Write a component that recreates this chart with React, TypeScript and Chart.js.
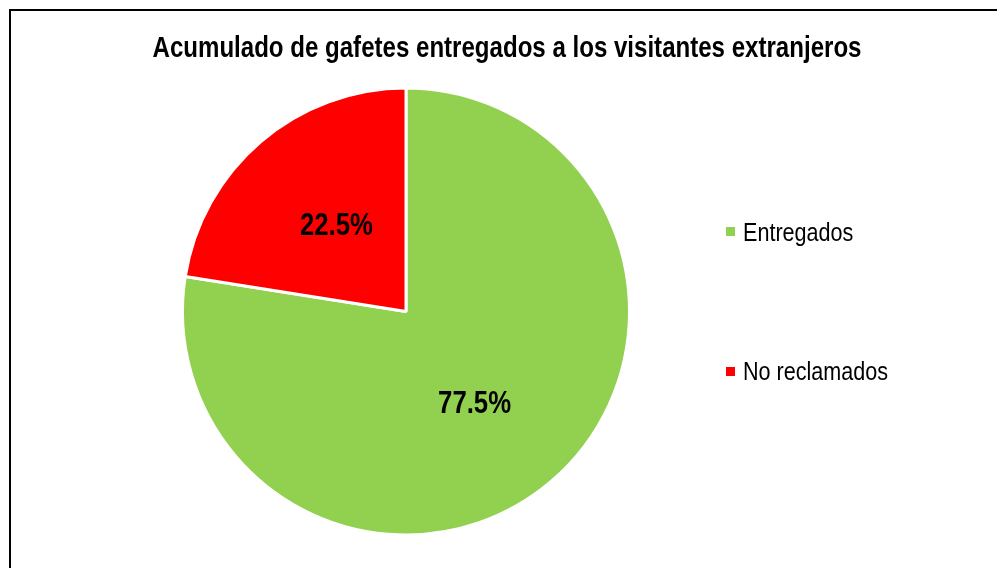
import React, { useEffect, useRef } from "react";
import { Chart, registerables } from "chart.js";

Chart.register(...registerables);

const TITLE = "Acumulado de gafetes entregados a los visitantes extranjeros";
const CATEGORIES = ["Entregados", "No reclamados"];
const VALUES = [77.5, 22.5];
const COLORS = ["#92D050", "#FF0000"];

const FONT = "'Liberation Sans', Arial, sans-serif";
const NARROW_SCALE = 0.83;

const labelPlugin = {
  id: "sliceLabels",
  afterDatasetsDraw(chart: any) {
    const ctx = chart.ctx;
    const meta = chart.getDatasetMeta(0);
    const data = chart.data.datasets[0].data as number[];
    const total = data.reduce((a, b) => a + b, 0);
    const nudges = [
      { dx: -4, dy: 8 },
      { dx: 3, dy: 0 },
    ];
    ctx.save();
    ctx.font = `bold 31px ${FONT}`;
    ctx.fillStyle = "#000";
    ctx.textAlign = "center";
    ctx.textBaseline = "middle";
    meta.data.forEach((arc: any, i: number) => {
      const p = arc.tooltipPosition();
      const pct = ((data[i] / total) * 100).toFixed(1) + "%";
      ctx.save();
      ctx.translate(p.x + nudges[i].dx, p.y + nudges[i].dy);
      ctx.scale(NARROW_SCALE, 1);
      ctx.fillText(pct, 0, 0);
      ctx.restore();
    });
    ctx.restore();
  },
};

export default function App() {
  const ref = useRef<HTMLCanvasElement>(null);
  useEffect(() => {
    if (!ref.current) return;
    const chart = new Chart(ref.current, {
      type: "pie",
      data: {
        labels: CATEGORIES,
        datasets: [
          {
            data: VALUES,
            backgroundColor: COLORS,
            borderColor: "#FFFFFF",
            borderWidth: 3,
          },
        ],
      },
      options: {
        responsive: false,
        animation: false,
        layout: { padding: { left: 181, right: 366, top: 86, bottom: 31 } },
        plugins: {
          legend: { display: false },
          title: { display: false },
          tooltip: { enabled: false },
        },
      },
      plugins: [labelPlugin],
    });
    return () => chart.destroy();
  }, []);

  return (
    <div
      style={{
        position: "absolute",
        left: 0,
        top: 0,
        width: 997,
        height: 568,
        overflow: "hidden",
        background: "#fff",
      }}
    >
      <div
        style={{
          position: "absolute",
          left: 9,
          top: 9,
          width: 1200,
          height: 800,
          borderTop: "2px solid #000",
          borderLeft: "2px solid #000",
        }}
      />
      <canvas ref={ref} width={997} height={568} style={{ position: "absolute", left: 0, top: 0 }} />
      <div
        style={{
          position: "absolute",
          left: 0,
          width: 1014,
          top: 33,
          textAlign: "center",
          fontFamily: FONT,
          fontWeight: "bold",
          fontSize: 29,
          lineHeight: "29px",
          color: "#000",
          whiteSpace: "nowrap",
          transform: `scaleX(${NARROW_SCALE})`,
          transformOrigin: "507px 0",
        }}
      >
        {TITLE}
      </div>
      {CATEGORIES.map((c, i) => (
        <div
          key={c}
          style={{
            position: "absolute",
            left: 726,
            top: i === 0 ? 218.5 : 358,
            height: 26,
            display: "flex",
            alignItems: "center",
            fontFamily: FONT,
            fontSize: 26,
            lineHeight: "26px",
            color: "#000",
            whiteSpace: "nowrap",
          }}
        >
          <span
            style={{
              display: "inline-block",
              width: 9,
              height: 9,
              background: COLORS[i],
              marginRight: 8,
            }}
          />
          <span
            style={{
              display: "inline-block",
              transform: `scaleX(${NARROW_SCALE})`,
              transformOrigin: "0 0",
            }}
          >
            {c}
          </span>
        </div>
      ))}
    </div>
  );
}
